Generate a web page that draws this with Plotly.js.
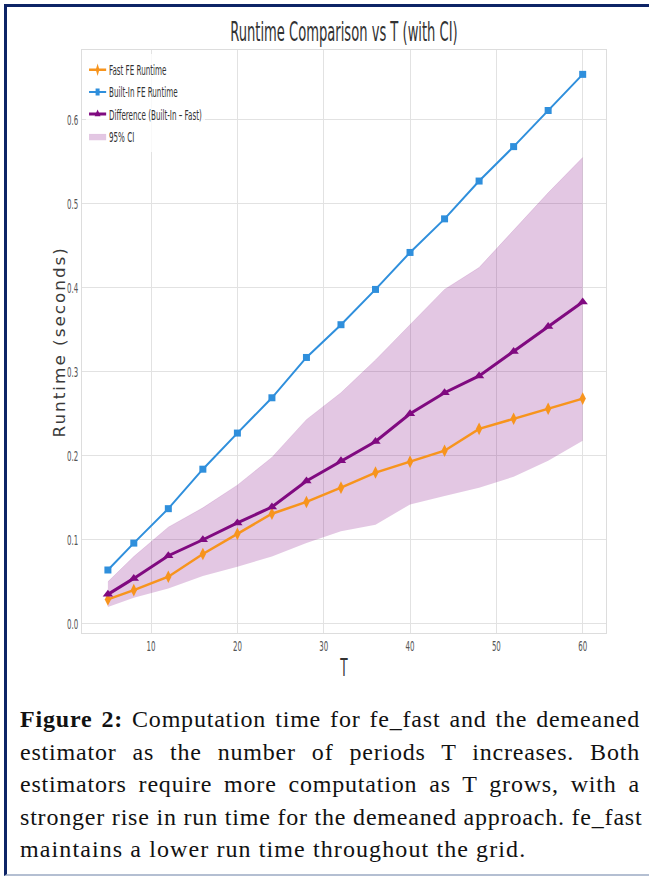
<!DOCTYPE html>
<html>
<head>
<meta charset="utf-8">
<script src="https://cdn.plot.ly/plotly-3.0.1.min.js"></script>
<style>
  html, body { margin: 0; padding: 0; background: #ffffff; }
  #frame {
    position: absolute; left: 4px; top: 4px; width: 645px; height: 872px;
    box-sizing: border-box; background: #ffffff;
    border-left: 3px solid #0d2466; border-top: 3px solid #0d2466;
    border-bottom: 2px solid #b4bfd2;
  }
  #chart { position: absolute; left: 0; top: 0; width: 649px; height: 690px; }
  #caption {
    position: absolute; left: 20px; top: 703px; width: 620px;
    font-family: "Liberation Serif", "DejaVu Serif", serif;
    font-size: 24px; line-height: 32.5px; color: #111;
    letter-spacing: 0.8px;
  }
  #caption .ln { white-space: nowrap; text-align: justify; text-align-last: justify; }
  #caption .ln.last { text-align: left; text-align-last: left; letter-spacing: 1.1px; }
  #chart .annotation-text { letter-spacing: 1.8px; }
</style>
</head>
<body>
<div id="frame"></div>
<div id="chart"></div>
<div id="caption">
  <div class="ln"><b>Figure 2:</b> Computation time for fe_fast and the demeaned</div>
  <div class="ln">estimator as the number of periods T increases. Both</div>
  <div class="ln">estimators require more computation as T grows, with a</div>
  <div class="ln">stronger rise in run time for the demeaned approach. fe_fast</div>
  <div class="ln last">maintains a lower run time throughout the grid.</div>
</div>
<script>
const T = [5, 8, 12, 16, 20, 24, 28, 32, 36, 40, 44, 48, 52, 56, 60];
const fastFE = [0.029, 0.040, 0.056, 0.083, 0.107, 0.131, 0.145, 0.162, 0.180, 0.193, 0.206, 0.232, 0.244, 0.256, 0.268];
const builtInFE = [0.064, 0.096, 0.137, 0.184, 0.227, 0.269, 0.317, 0.356, 0.398, 0.442, 0.482, 0.527, 0.568, 0.611, 0.654];
const difference = [0.035, 0.054, 0.081, 0.100, 0.120, 0.139, 0.170, 0.194, 0.217, 0.250, 0.275, 0.295, 0.324, 0.354, 0.383];
const ciLower = [0.020, 0.031, 0.042, 0.057, 0.068, 0.080, 0.096, 0.110, 0.118, 0.142, 0.152, 0.162, 0.175, 0.194, 0.218];
const ciUpper = [0.050, 0.080, 0.115, 0.138, 0.165, 0.198, 0.243, 0.275, 0.314, 0.356, 0.398, 0.424, 0.469, 0.513, 0.555];
const xTicks = [10, 20, 30, 40, 50, 60];
const yTicks = [0.0, 0.1, 0.2, 0.3, 0.4, 0.5, 0.6];

const narrow = '"DejaVu Sans Condensed", "Liberation Sans Narrow", "Liberation Sans", Arial, sans-serif';

const traces = [
  { x: T, y: ciLower, type: 'scatter', mode: 'lines', line: { width: 0, color: 'rgba(128,0,128,0)' },
    showlegend: false, hoverinfo: 'skip', legendgroup: 'd' },
  { x: T, y: ciUpper, type: 'scatter', mode: 'lines', fill: 'tonexty',
    fillcolor: 'rgba(128,0,128,0.22)', line: { width: 0.5, color: 'rgba(128,0,128,0.25)' },
    name: '95% CI', legendrank: 4, legendgroup: 'd' },
  { x: T, y: fastFE, type: 'scatter', mode: 'lines+markers', name: 'Fast FE Runtime',
    line: { color: '#f7941d', width: 2.5 }, marker: { symbol: 'diamond-tall', size: 9, color: '#f7941d' },
    legendrank: 1, legendgroup: 'a' },
  { x: T, y: builtInFE, type: 'scatter', mode: 'lines+markers', name: 'Built-In FE Runtime',
    line: { color: '#2f8fdc', width: 2 }, marker: { symbol: 'square', size: 7, color: '#2f8fdc' },
    legendrank: 2, legendgroup: 'b' },
  { x: T, y: difference, type: 'scatter', mode: 'lines+markers', name: 'Difference (Built-In \u2013 Fast)',
    line: { color: '#800a80', width: 3 }, marker: { symbol: 'triangle-up', size: 9, color: '#800a80' },
    legendrank: 3, legendgroup: 'c' }
];

const layout = {
  width: 649, height: 690,
  margin: { l: 82, r: 43, t: 50, b: 57 },
  paper_bgcolor: 'rgba(0,0,0,0)',
  plot_bgcolor: '#ffffff',
  title: { text: 'Runtime Comparison vs T (with CI)', x: 0.5, xref: 'paper', xanchor: 'center',
    y: 1 - 32 / 690, yref: 'container', yanchor: 'middle',
    font: { family: narrow, size: 26, color: '#333333' } },
  xaxis: {
    range: [2.0, 62.7], tickvals: xTicks, ticktext: xTicks.map(String),
    showgrid: true, gridcolor: '#e2e2e2', gridwidth: 1,
    showline: true, mirror: true, linecolor: '#dddddd', linewidth: 1,
    zeroline: false, ticks: '',
    tickfont: { family: narrow, size: 14, color: '#555555' },
    title: { text: 'T', font: { family: narrow, size: 24, color: '#333333' }, standoff: 6 }
  },
  yaxis: {
    range: [-0.011, 0.683], tickvals: yTicks, ticktext: yTicks.map(v => v.toFixed(1)),
    showgrid: true, gridcolor: '#e2e2e2', gridwidth: 1,
    showline: true, mirror: true, linecolor: '#dddddd', linewidth: 1,
    zeroline: false, ticks: '',
    tickfont: { family: narrow, size: 14, color: '#555555' }
  },
  annotations: [{
    text: 'Runtime (seconds)', textangle: -90, showarrow: false,
    xref: 'paper', yref: 'paper', x: (60 - 82) / 524, y: (633 - 342) / 583,
    xanchor: 'center', yanchor: 'middle',
    font: { family: '"DejaVu Sans", Verdana, sans-serif', size: 15, color: '#3a3a3a' }
  }],
  legend: {
    x: 0.008, y: 0.993, xanchor: 'left', yanchor: 'top', traceorder: 'grouped',
    bgcolor: 'rgba(255,255,255,0.8)', borderwidth: 0,
    font: { family: narrow, size: 14, color: '#333333' },
    tracegroupgap: 1
  },
  showlegend: true
};

function squeeze(selector, s, mode) {
  document.querySelectorAll(selector).forEach(el => {
    const bb = el.getBBox();
    let cx;
    if (mode === 'left') cx = bb.x;
    else if (mode === 'right') cx = bb.x + bb.width;
    else cx = bb.x + bb.width / 2;
    const prev = el.getAttribute('transform') || '';
    el.setAttribute('transform', prev + ' translate(' + cx + ',0) scale(' + s + ',1) translate(' + (-cx) + ',0)');
  });
}

Plotly.newPlot('chart', traces, layout, { displayModeBar: false, staticPlot: true }).then(() => {
  squeeze('#chart .gtitle', 0.56, 'center');
  squeeze('#chart .xtick text', 0.56, 'center');
  squeeze('#chart .ytick text', 0.56, 'right');
  squeeze('#chart .xtitle', 0.56, 'center');
  squeeze('#chart .annotation-text', 1.12, 'center');
  document.querySelectorAll('#chart g.legend').forEach(g => {
    const prev = g.getAttribute('transform') || '';
    g.setAttribute('transform', prev + ' scale(0.57,1)');
  });
});
</script>
</body>
</html>
